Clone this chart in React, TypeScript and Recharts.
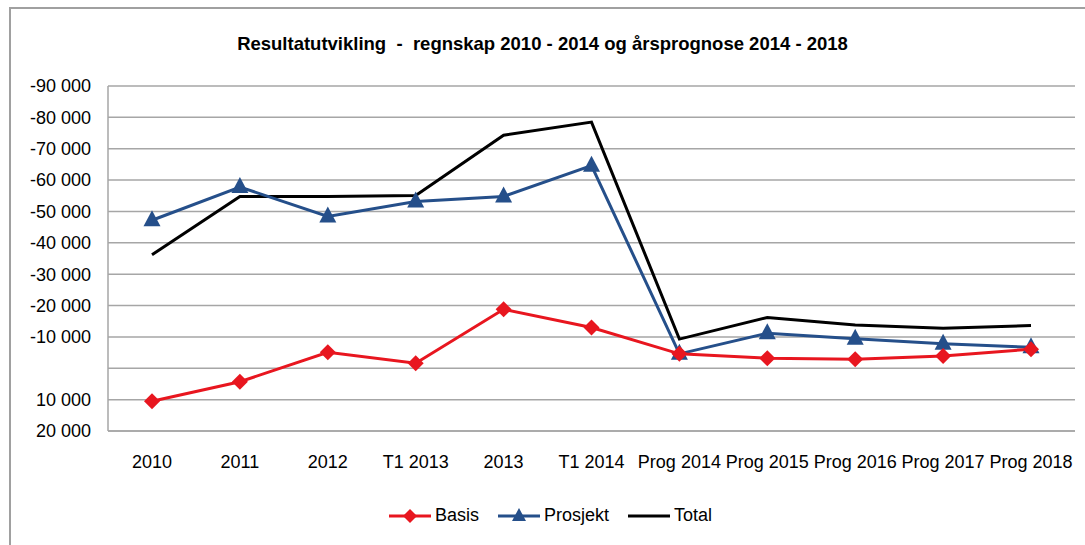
import React from 'react'
import { LineChart, Line, XAxis, YAxis, CartesianGrid } from 'recharts'

const categories = ['2010', '2011', '2012', 'T1 2013', '2013', 'T1 2014', 'Prog 2014', 'Prog 2015', 'Prog 2016', 'Prog 2017', 'Prog 2018']
const basis = [10500, 4300, -5100, -1600, -18800, -13000, -4600, -3200, -2900, -3900, -6100]
const prosjekt = [-47200, -57800, -48400, -53200, -54800, -64600, -4600, -11200, -9400, -7800, -6700]
const total = [-36200, -54800, -54800, -55100, -74300, -78500, -9300, -16200, -13800, -12800, -13600]
const yTicks = [-90000, -80000, -70000, -60000, -50000, -40000, -30000, -20000, -10000, 0, 10000, 20000]

const RED = '#e8161f'
const BLUE = '#254f8a'
const FONT = '"Liberation Sans", Arial, sans-serif'

const data = categories.map((name, i) => ({
  name,
  basis: basis[i],
  prosjekt: prosjekt[i],
  total: total[i]
}))

function formatTick(v: number) {
  if (v === 0) return ''
  const abs = Math.abs(v).toString().replace(/\B(?=(\d{3})+(?!\d))/g, ' ')
  return (v < 0 ? '-' : '') + abs
}

const Diamond = (props: any) => {
  const { cx, cy, index } = props
  if (cx == null || cy == null) return null
  const r = 8
  return <path key={'d' + index} d={`M${cx},${cy - r}L${cx + r},${cy}L${cx},${cy + r}L${cx - r},${cy}Z`} fill={RED} />
}

const Triangle = (props: any) => {
  const { cx, cy, index } = props
  if (cx == null || cy == null) return null
  return <path key={'t' + index} d={`M${cx},${cy - 10}L${cx + 8.5},${cy + 6}L${cx - 8.5},${cy + 6}Z`} fill={BLUE} />
}

function LegendItem({ color, label, marker }: { color: string; label: string; marker?: 'diamond' | 'triangle' }) {
  return (
    <div style={{ display: 'flex', alignItems: 'center', marginRight: 18 }}>
      <svg width={44} height={20}>
        <line x1={1} y1={10} x2={43} y2={10} stroke={color} strokeWidth={3} />
        {marker === 'diamond' && <path d="M22,3L29,10L22,17L15,10Z" fill={color} />}
        {marker === 'triangle' && <path d="M22,2L29,15L15,15Z" fill={color} />}
      </svg>
      <span style={{ marginLeft: 3 }}>{label}</span>
    </div>
  )
}

export default function App() {
  return (
    <div style={{ position: 'absolute', left: 0, top: 0, width: 1085, height: 545, background: '#fff', fontFamily: FONT, overflow: 'hidden' }}>
      <div style={{ position: 'absolute', left: 9, top: 7, width: 1100, height: 560, border: '2px solid #a0a0a0', boxSizing: 'border-box' }} />
      <div style={{ position: 'absolute', left: 0, width: 1085, top: 33, textAlign: 'center', fontWeight: 'bold', fontSize: 18.5, color: '#000' }}>
        Resultatutvikling&nbsp; - &nbsp;regnskap 2010 - 2014 og årsprognose 2014 - 2018
      </div>
      <div style={{ position: 'absolute', left: 0, top: 0 }}>
        <LineChart width={1085} height={545} data={data} margin={{ top: 86, right: 10, left: 0, bottom: 74 }}>
          <CartesianGrid horizontal vertical={false} stroke="#a6a6a6" strokeWidth={1.5} />
          <XAxis
            dataKey="name"
            padding={{ left: 44, right: 44 }}
            tickLine={false}
            axisLine={{ stroke: '#a6a6a6', strokeWidth: 1.5 }}
            tickSize={0}
            tickMargin={24}
            height={40}
            interval={0}
            tick={{ fill: '#000', fontSize: 18, fontFamily: FONT }}
          />
          <YAxis
            reversed
            domain={[-90000, 20000]}
            ticks={yTicks}
            interval={0}
            width={108}
            tickLine={false}
            tickSize={0}
            tickMargin={17}
            axisLine={{ stroke: '#a6a6a6', strokeWidth: 1.5 }}
            tickFormatter={formatTick}
            tick={{ fill: '#000', fontSize: 18, fontFamily: FONT }}
          />
          <Line dataKey="total" stroke="#000" strokeWidth={3} dot={false} isAnimationActive={false} />
          <Line dataKey="prosjekt" stroke={BLUE} strokeWidth={3} dot={Triangle} activeDot={false} isAnimationActive={false} />
          <Line dataKey="basis" stroke={RED} strokeWidth={3} dot={Diamond} activeDot={false} isAnimationActive={false} />
        </LineChart>
      </div>
      <div style={{ position: 'absolute', top: 505, left: 388, display: 'flex', fontSize: 18, color: '#000' }}>
        <LegendItem color={RED} label="Basis" marker="diamond" />
        <LegendItem color={BLUE} label="Prosjekt" marker="triangle" />
        <LegendItem color="#000" label="Total" />
      </div>
    </div>
  )
}
